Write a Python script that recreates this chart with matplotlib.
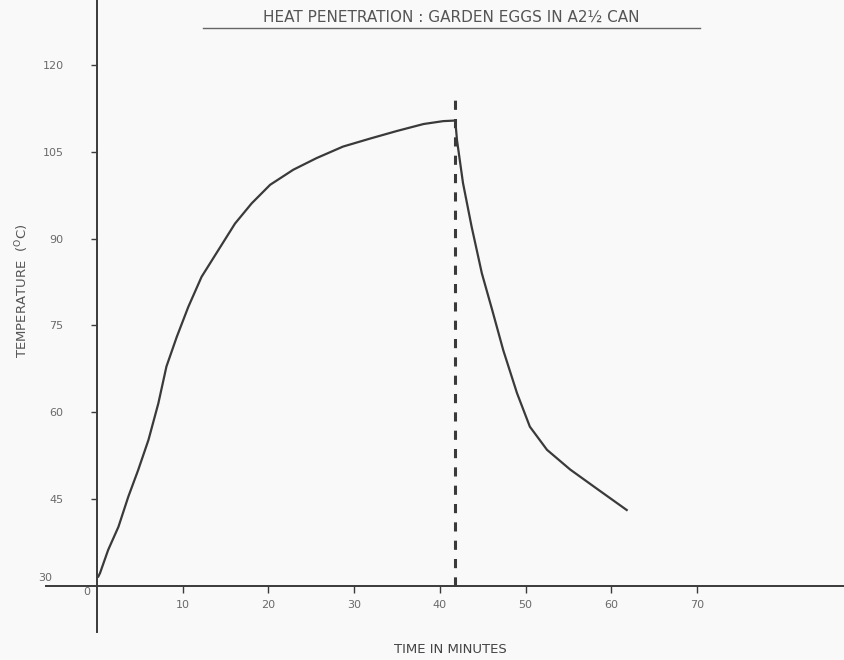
import matplotlib.pyplot as plt
from matplotlib.lines import Line2D

# temperatura (minutos, graus C)
time_min = [0.15, 0.35, 1.3, 2.5, 3.65, 4.8, 6.0, 7.15, 8.1, 9.3, 10.65, 12.2,
            14.15, 16.1, 18.05, 20.2, 22.9, 25.6, 28.7, 31.9, 35.0, 38.1, 40.4,
            41.8,
            42.0, 42.7, 43.7, 44.9, 46.1, 47.4, 49.0, 50.5, 52.5, 55.2, 58.3,
            61.8]
temp_c = [31.6, 32.2, 36.2, 40.2, 45.4, 50.0, 55.2, 61.5, 67.9, 73.0, 78.2, 83.4,
          88.0, 92.6, 96.1, 99.3, 101.9, 103.9, 105.9, 107.3, 108.6, 109.8, 110.3,
          110.4,
          107.0, 99.6, 92.1, 84.0, 77.7, 70.7, 63.3, 57.5, 53.5, 50.1, 46.8,
          43.1]

cooling_start = 41.8      # linha tracejada (inicio do resfriamento)
dash_top = 115.3

x_ticks = [10, 20, 30, 40, 50, 60, 70]
y_ticks = [45, 60, 75, 90, 105, 120]

ink = "#3a3a3a"
grey = "#6a6a6a"

fig = plt.figure(figsize=(8.45, 6.6), dpi=100)
fig.patch.set_facecolor("#f9f9f9")
ax = fig.add_axes([0, 0, 1, 1])
ax.set_facecolor("#f9f9f9")

ax.set_xlim(-11.32, 87.27)
ax.set_ylim(17.18, 131.23)

# eixos cruzando em (0, 30)
ax.spines["left"].set_position(("data", 0))
ax.spines["bottom"].set_position(("data", 30))
ax.spines["top"].set_visible(False)
ax.spines["right"].set_visible(False)
ax.spines["left"].set_bounds(22.0, 131.23)
ax.spines["bottom"].set_bounds(-6.0, 87.27)
for s in ["left", "bottom"]:
    ax.spines[s].set_color(ink)
    ax.spines[s].set_linewidth(1.4)

ax.set_xticks(x_ticks)
ax.set_yticks(y_ticks)
ax.tick_params(axis="x", direction="out", length=5, width=1, colors=ink,
               labelcolor=grey, labelsize=8, pad=5)
ax.tick_params(axis="y", direction="out", length=4, width=1, colors=ink,
               labelcolor=grey, labelsize=8, pad=20)

ax.text(-1.2, 28.9, "0", ha="center", va="center", fontsize=8, color=grey)
ax.text(-6.0, 31.3, "30", ha="center", va="center", fontsize=8, color=grey)

# curva de penetracao de calor
ax.plot(time_min, temp_c, color=ink, lw=1.6, solid_joinstyle="round")
ax.plot([cooling_start, cooling_start], [30, dash_top], color=ink, lw=2.2,
        linestyle=(0, (3, 3)))

# titulo sublinhado
fig.text(0.534, 0.974, "HEAT PENETRATION : GARDEN EGGS IN A2½ CAN",
         ha="center", va="center", fontsize=11, color="#555555")
fig.add_artist(Line2D([0.240, 0.828], [0.957, 0.957], transform=fig.transFigure,
                      color="#666666", lw=1))

fig.text(0.026, 0.56, "TEMPERATURE  ($^{\\mathrm{O}}$C)", rotation=90,
         ha="center", va="center", fontsize=9.5, color="#555555")
fig.text(0.533, 0.016, "TIME IN MINUTES", ha="center", va="center",
         fontsize=9.5, color="#444444")

plt.savefig("out.png", dpi=100, facecolor=fig.get_facecolor())
